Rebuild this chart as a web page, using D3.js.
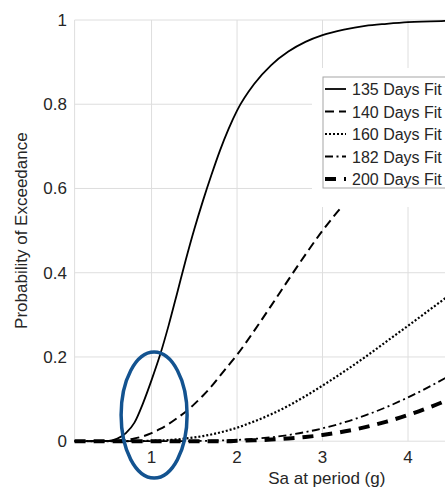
<!DOCTYPE html>
<html>
<head>
<meta charset="utf-8">
<script src="https://cdn.jsdelivr.net/npm/d3@7"></script>
<style>
  body { margin: 0; background: #fff; }
  text { font-family: "Liberation Sans", Arial, sans-serif; fill: #262626; }
</style>
</head>
<body>
<script>
sa = [0.1, 0.5, 0.6, 0.7, 0.8, 0.9, 1.0, 1.1, 1.2, 1.3, 1.4, 1.5, 1.6, 1.7, 1.8, 1.9, 2.0,
      2.2, 2.4, 2.6, 2.8, 3.0, 3.25, 3.5, 3.75, 4.0, 4.5, 5.0, 5.5, 6.0];

days135 = [0, 0.001, 0.006, 0.019, 0.044, 0.09, 0.145, 0.205, 0.275, 0.352, 0.43, 0.503, 0.57, 0.632,
           0.69, 0.741, 0.785, 0.848, 0.893, 0.925, 0.948, 0.964, 0.977, 0.986, 0.991, 0.995, 0.998,
           0.9995, 1, 1];
days140 = [0, 0.0004, 0.0012, 0.003, 0.0064, 0.0117, 0.019, 0.029, 0.041, 0.055, 0.07, 0.088, 0.108,
           0.13, 0.155, 0.18, 0.205, 0.262, 0.322, 0.383, 0.443, 0.5, 0.562, 0.614, 0.663, 0.706, 0.778,
           0.832, 0.873, 0.904];
days160 = [0, 0, 0, 0, 0.0002, 0.0004, 0.001, 0.0017, 0.0028, 0.0043, 0.0064, 0.009, 0.0122, 0.016,
           0.0207, 0.026, 0.032, 0.047, 0.064, 0.084, 0.107, 0.132, 0.165, 0.2, 0.237, 0.274, 0.349,
           0.422, 0.49, 0.552];
days182 = [0, 0, 0, 0, 0, 0, 0, 0, 0, 0, 0, 0.0004, 0.0007, 0.0012, 0.0018, 0.0024, 0.0031, 0.0056,
           0.0094, 0.0147, 0.0217, 0.0305, 0.0444, 0.0613, 0.0812, 0.104, 0.157, 0.217, 0.281, 0.347];
days200 = [0, 0, 0, 0, 0, 0, 0, 0, 0, 0, 0, 0, 0, 0, 0, 0, 0.0011, 0.002, 0.0038, 0.0064, 0.01,
           0.0148, 0.0229, 0.0334, 0.0465, 0.0622, 0.101, 0.149, 0.203, 0.262];

labels = ["135 Days Fit", "140 Days Fit", "160 Days Fit", "182 Days Fit", "200 Days Fit"];
xTicks = [1, 2, 3, 4];
yTicks = [0, 0.2, 0.4, 0.6, 0.8, 1];

series = [days135, days140, days160, days182, days200];
styles = [
  { w: 1.8, dash: null },
  { w: 2, dash: "9,5" },
  { w: 2.2, dash: "2,2" },
  { w: 1.8, dash: "8,3.5,2,3.5" },
  { w: 4, dash: "11,8" }
];

svg = d3.select("body").append("svg").attr("width", 445).attr("height", 489);
svg.append("rect").attr("width", 445).attr("height", 489).attr("fill", "#fff");

x = d3.scaleLinear().domain([0.1, 6]).range([74.6, 579]);
y = d3.scaleLinear().domain([0, 1]).range([441.2, 20]);

// grid (plot runs past the right edge of the picture)
svg.append("g").selectAll("line").data([0.1, 1, 2, 3, 4, 5, 6]).enter().append("line")
  .attr("x1", d => x(d)).attr("x2", d => x(d))
  .attr("y1", y(0)).attr("y2", y(1))
  .attr("stroke", "#dedede").attr("stroke-width", 1);
svg.append("g").selectAll("line").data(yTicks).enter().append("line")
  .attr("x1", x(0.1)).attr("x2", x(6))
  .attr("y1", d => y(d)).attr("y2", d => y(d))
  .attr("stroke", "#dedede").attr("stroke-width", 1);

// curves
line = d3.line().curve(d3.curveMonotoneX);
series.forEach((vals, i) => {
  svg.append("path")
    .attr("d", line(sa.map((s, j) => [x(s), y(vals[j])])))
    .attr("fill", "none")
    .attr("stroke", "#000")
    .attr("stroke-width", styles[i].w)
    .attr("stroke-dasharray", styles[i].dash);
});

// tick labels
svg.append("g").selectAll("text").data(yTicks).enter().append("text")
  .attr("x", 67).attr("y", d => y(d) + 6)
  .attr("text-anchor", "end").attr("font-size", 17)
  .text(d => d3.format("~g")(d));
svg.append("g").selectAll("text").data(xTicks).enter().append("text")
  .attr("x", d => x(d)).attr("y", 463)
  .attr("text-anchor", "middle").attr("font-size", 17)
  .text(d => d);

// axis titles
svg.append("text").attr("x", (x(0.1) + x(6)) / 2).attr("y", 484)
  .attr("text-anchor", "middle").attr("font-size", 17).text("Sa at period (g)");
svg.append("text").attr("transform", "translate(27," + (y(0) + y(1)) / 2 + ") rotate(-90)")
  .attr("text-anchor", "middle").attr("font-size", 17).text("Probability of Exceedance");

// legend
svg.append("rect").attr("x", 312).attr("y", 68).attr("width", 140).attr("height", 139).attr("fill", "#fff");
leg = svg.append("g").attr("transform", "translate(323,77)");
leg.append("rect").attr("width", 130).attr("height", 111)
  .attr("fill", "#fff").attr("stroke", "#a6a6a6").attr("stroke-width", 1);
labels.forEach((lab, i) => {
  const yy = 12 + i * 22.5;
  leg.append("line").attr("x1", 2).attr("x2", 23).attr("y1", yy).attr("y2", yy)
    .attr("stroke", "#000").attr("stroke-width", styles[i].w)
    .attr("stroke-dasharray", styles[i].dash);
  leg.append("text").attr("x", 29).attr("y", yy + 6).attr("font-size", 16).text(lab);
});

// highlight ellipse
svg.append("ellipse").attr("cx", x(1.03)).attr("cy", y(0.062)).attr("rx", 33).attr("ry", 63)
  .attr("fill", "none").attr("stroke", "#135390").attr("stroke-width", 3.5);
</script>
</body>
</html>
